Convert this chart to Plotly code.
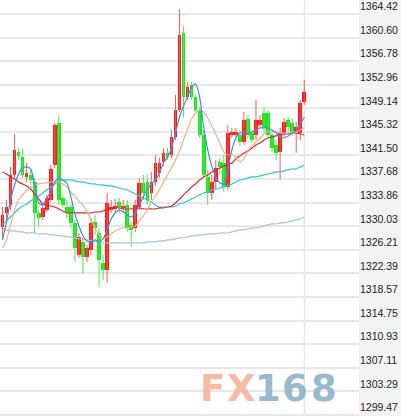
import plotly.graph_objects as go

# ---- candle data (oldest -> newest) ----
opens = [1329.92, 1332.18, 1333.48, 1338.34, 1342.07, 1341.26, 1338.02, 1338.34, 1337.21, 1332.18,
         1331.53, 1332.66, 1334.29, 1339.96, 1346.76, 1334.61, 1333.15, 1333.15, 1330.56, 1325.38,
         1327.49, 1325.06, 1326.19, 1330.72, 1328.94, 1324.08, 1322.95, 1332.66, 1332.83, 1333.96,
         1332.99, 1333.48, 1330.24, 1329.75, 1333.15, 1337.04, 1337.21, 1335.42, 1337.21, 1338.66,
         1340.45, 1341.90, 1341.58, 1344.50, 1348.87, 1361.34, 1350.97, 1352.92, 1350.97, 1348.87,
         1344.82, 1338.02, 1335.42, 1337.21, 1340.45, 1340.28, 1336.40, 1344.82, 1344.82, 1344.82,
         1343.68, 1347.41, 1345.14, 1344.82, 1346.44, 1348.38, 1348.38, 1344.82, 1343.20, 1342.07,
         1345.14, 1347.25, 1346.76, 1345.47, 1345.14, 1350.16]
highs = [1333.15, 1334.29, 1339.64, 1344.98, 1342.71, 1342.55, 1340.28, 1339.15, 1337.85, 1332.66,
         1333.48, 1335.10, 1339.96, 1346.76, 1348.06, 1335.10, 1334.29, 1333.48, 1331.05, 1328.94,
         1328.13, 1327.00, 1331.37, 1331.86, 1329.75, 1325.38, 1335.42, 1334.29, 1334.45, 1334.61,
         1334.29, 1334.29, 1330.72, 1334.29, 1337.85, 1338.34, 1338.34, 1338.83, 1341.58, 1341.09,
         1342.71, 1342.71, 1345.63, 1351.30, 1365.23, 1362.48, 1353.40, 1353.40, 1351.30, 1349.35,
         1345.63, 1339.15, 1338.34, 1340.77, 1341.09, 1341.58, 1346.44, 1345.95, 1345.95, 1345.63,
         1348.54, 1348.06, 1345.63, 1350.49, 1348.06, 1349.35, 1348.87, 1345.31, 1344.01, 1345.95,
         1347.57, 1347.73, 1347.57, 1346.92, 1350.49, 1353.73]
lows = [1327.81, 1330.72, 1332.66, 1337.85, 1340.77, 1337.85, 1337.21, 1336.72, 1328.94, 1329.92,
        1331.05, 1332.34, 1333.96, 1339.47, 1333.48, 1332.99, 1331.37, 1329.75, 1324.25, 1324.89,
        1322.46, 1324.25, 1325.38, 1328.62, 1320.19, 1321.33, 1320.84, 1332.18, 1332.34, 1332.18,
        1332.34, 1329.11, 1326.68, 1329.11, 1332.66, 1334.29, 1333.48, 1334.29, 1336.56, 1337.85,
        1339.80, 1340.77, 1341.09, 1344.01, 1348.54, 1347.57, 1350.49, 1350.49, 1348.54, 1344.33,
        1337.85, 1333.48, 1334.29, 1335.91, 1338.34, 1335.59, 1335.91, 1344.33, 1344.50, 1343.04,
        1343.20, 1344.33, 1343.52, 1344.01, 1345.95, 1345.31, 1344.33, 1342.07, 1340.77, 1337.53,
        1344.50, 1345.31, 1344.65, 1341.90, 1344.01, 1349.68]
closes = [1331.86, 1333.15, 1338.34, 1342.39, 1341.42, 1338.34, 1338.66, 1337.53, 1332.18, 1331.37,
          1332.99, 1334.61, 1339.31, 1346.44, 1334.29, 1333.48, 1332.18, 1330.56, 1326.51, 1328.30,
          1325.06, 1326.51, 1330.56, 1329.75, 1324.57, 1322.95, 1333.80, 1333.15, 1333.31, 1333.15,
          1333.31, 1329.75, 1329.43, 1333.48, 1337.04, 1335.42, 1334.29, 1337.21, 1340.28, 1340.28,
          1341.90, 1341.26, 1344.50, 1348.87, 1361.02, 1350.97, 1352.59, 1350.97, 1348.87, 1344.82,
          1338.34, 1335.42, 1337.21, 1339.47, 1339.64, 1336.40, 1345.14, 1345.31, 1345.31, 1343.68,
          1347.25, 1344.82, 1344.01, 1347.25, 1347.25, 1345.95, 1344.82, 1342.71, 1341.90, 1345.14,
          1346.92, 1346.11, 1345.31, 1346.11, 1350.00, 1351.78]

# ---- moving averages ----
ma_fast = [1327.81, 1330.72, 1334.29, 1336.72, 1338.50, 1339.47, 1339.64, 1339.31, 1336.72, 1333.80,
           1333.48, 1334.61, 1335.59, 1337.21, 1337.85, 1337.53, 1337.04, 1334.78, 1332.02, 1330.08,
           1328.46, 1327.65, 1327.49, 1327.81, 1327.49, 1327.97, 1329.43, 1331.21, 1332.18, 1332.66,
           1332.34, 1331.86, 1331.53, 1332.18, 1333.48, 1334.78, 1336.07, 1336.88, 1337.53, 1338.66,
           1340.28, 1341.26, 1342.71, 1345.14, 1347.73, 1349.52, 1350.97, 1352.59, 1353.08, 1350.97,
           1346.11, 1342.39, 1339.80, 1338.02, 1337.04, 1336.88, 1339.47, 1342.39, 1344.33, 1345.14,
           1345.14, 1345.14, 1345.31, 1345.63, 1345.95, 1345.95, 1345.95, 1345.63, 1345.14, 1344.50,
           1344.33, 1344.66, 1345.14, 1345.47, 1346.60, 1347.73]
ma_mid = [1326.51, 1327.81, 1330.24, 1332.66, 1334.29, 1335.10, 1335.91, 1336.40, 1336.72, 1336.88,
          1337.04, 1337.04, 1337.21, 1337.21, 1337.21, 1336.88, 1336.40, 1335.59, 1334.78, 1334.13,
          1333.48, 1332.34, 1331.05, 1329.75, 1328.62, 1328.13, 1328.30, 1328.78, 1329.27, 1329.59,
          1329.75, 1329.75, 1329.92, 1330.08, 1330.89, 1331.69, 1332.66, 1333.96, 1334.94, 1335.91,
          1337.21, 1338.34, 1339.47, 1340.77, 1342.23, 1344.01, 1345.79, 1347.41, 1348.38, 1348.87,
          1348.54, 1347.57, 1346.28, 1344.98, 1343.52, 1342.07, 1341.58, 1341.74, 1341.09, 1340.45,
          1340.93, 1342.23, 1343.04, 1343.68, 1344.33, 1344.98, 1345.47, 1345.47, 1345.31, 1345.14,
          1345.14, 1345.14, 1345.31, 1345.31, 1345.63, 1345.95]
ma_20 = [1338.83, 1338.50, 1338.02, 1337.69, 1337.21, 1336.88, 1336.56, 1336.07, 1335.26, 1334.45,
         1333.64, 1333.48, 1333.31, 1333.15, 1332.83, 1332.50, 1332.18, 1332.18, 1332.18, 1332.18,
         1332.18, 1332.18, 1332.18, 1332.34, 1332.34, 1332.50, 1332.83, 1332.99, 1333.15, 1332.99,
         1332.83, 1332.83, 1332.83, 1332.99, 1332.99, 1332.83, 1332.83, 1332.83, 1332.83, 1332.99,
         1332.99, 1333.15, 1333.31, 1333.80, 1334.45, 1335.10, 1335.75, 1336.40, 1336.88, 1337.53,
         1338.02, 1338.34, 1338.83, 1339.15, 1339.47, 1339.80, 1339.96, 1340.28, 1340.93, 1341.42,
         1341.90, 1342.23, 1342.71, 1343.20, 1343.52, 1344.01, 1344.33, 1344.50, 1344.66, 1344.82,
         1344.98, 1344.98, 1345.14, 1345.14, 1344.98, 1344.82]
ma_30 = [1330.24, 1330.89, 1331.53, 1332.18, 1332.83, 1333.31, 1333.64, 1334.13, 1334.45, 1334.94,
         1335.42, 1335.91, 1336.40, 1336.88, 1337.37, 1337.53, 1337.53, 1337.53, 1337.37, 1337.21,
         1337.21, 1337.04, 1336.88, 1336.88, 1336.72, 1336.72, 1336.56, 1336.56, 1336.40, 1336.23,
         1336.07, 1335.91, 1335.59, 1335.26, 1334.94, 1334.61, 1334.29, 1333.96, 1333.48, 1333.15,
         1333.15, 1333.15, 1333.15, 1333.31, 1333.64, 1333.80, 1334.13, 1334.45, 1334.78, 1335.10,
         1335.42, 1335.59, 1335.91, 1336.07, 1336.23, 1336.40, 1336.56, 1336.88, 1337.21, 1337.53,
         1337.69, 1337.85, 1338.02, 1338.02, 1338.18, 1338.34, 1338.50, 1338.66, 1338.83, 1338.83,
         1338.99, 1339.15, 1339.31, 1339.31, 1339.64, 1339.96]
ma_long = [1329.43, 1329.43, 1329.27, 1329.27, 1329.11, 1329.11, 1328.94, 1328.94, 1328.94, 1328.78,
           1328.78, 1328.78, 1328.62, 1328.62, 1328.46, 1328.46, 1328.30, 1328.30, 1328.13, 1327.97,
           1327.97, 1327.81, 1327.65, 1327.49, 1327.49, 1327.32, 1327.32, 1327.32, 1327.32, 1327.32,
           1327.32, 1327.32, 1327.32, 1327.32, 1327.32, 1327.32, 1327.49, 1327.49, 1327.49, 1327.65,
           1327.65, 1327.81, 1327.81, 1327.97, 1328.13, 1328.13, 1328.30, 1328.46, 1328.46, 1328.62,
           1328.62, 1328.78, 1328.78, 1328.78, 1328.94, 1328.94, 1328.94, 1329.11, 1329.27, 1329.43,
           1329.43, 1329.59, 1329.75, 1329.75, 1329.92, 1330.08, 1330.24, 1330.40, 1330.40, 1330.56,
           1330.56, 1330.72, 1330.89, 1331.05, 1331.21, 1331.53]

# ---- price axis labels ----
tick_labels = ["1364.42", "1360.60", "1356.78", "1352.96", "1349.14", "1345.32",
               "1341.50", "1337.68", "1333.86", "1330.03", "1326.21", "1322.39",
               "1318.57", "1314.75", "1310.93", "1307.11", "1303.29", "1299.47"]

UP_BODY, DOWN_BODY = "#ff1a1a", "#16e616"
UP_WICK, DOWN_WICK = "#ff5a5a", "#4fe84f"

idx = list(range(len(opens)))
is_up = [c >= o for o, c in zip(opens, closes)]

fig = go.Figure()

# wicks: one polyline per colour, segments split by None
for up_flag, color in ((True, UP_WICK), (False, DOWN_WICK)):
    wx, wy = [], []
    for i in idx:
        if is_up[i] == up_flag:
            wx += [i, i, None]
            wy += [lows[i], highs[i], None]
    fig.add_trace(go.Scatter(x=wx, y=wy, mode="lines",
                             line=dict(color=color, width=1),
                             hoverinfo="skip"))

# bodies
body_base = [min(o, c) for o, c in zip(opens, closes)]
body_h = [max(abs(c - o), 0.16) for o, c in zip(opens, closes)]
fig.add_trace(go.Bar(x=idx, y=body_h, base=body_base, width=0.92,
                     marker=dict(color=[UP_BODY if u else DOWN_BODY for u in is_up],
                                 line=dict(width=0))))

# moving-average lines
for series, color in ((ma_long, "#a3c6da"), (ma_30, "#2fc6d6"), (ma_20, "#e8262a"),
                      (ma_mid, "#eeb088"), (ma_fast, "#3b8ff0")):
    fig.add_trace(go.Scatter(x=idx, y=series, mode="lines",
                             line=dict(color=color, width=1.2, shape="spline", smoothing=0.6)))

# marker line through the latest session
fig.add_shape(type="line", xref="x", yref="paper", x0=idx[-1], x1=idx[-1], y0=0, y1=1,
              line=dict(color="#dcdcdc", width=1), layer="below")

# FX168 logo watermark
logo_chars = ["F", "X", "1", "6", "8"]
logo_colors = ["#f4b49c", "#f4b49c", "#8fb2ca", "#8fb2ca", "#8fb2ca"]
logo_x = [212, 241, 268, 295, 324]
for ch, col, px in zip(logo_chars, logo_colors, logo_x):
    fig.add_annotation(text=ch, xref="paper", yref="paper", x=px / 359, y=1 - 388 / 416,
                       showarrow=False, xanchor="center", yanchor="middle", opacity=0.9,
                       font=dict(family="DejaVu Sans", size=37, color=col, weight="bold"))

fig.update_layout(
    width=401, height=416,
    margin=dict(l=0, r=42, t=0, b=0),
    paper_bgcolor="#f3f3f3", plot_bgcolor="#ffffff",
    showlegend=False, barmode="overlay", bargap=0,
    xaxis=dict(range=[-0.62, 88.6], showgrid=False, zeroline=False,
               showticklabels=False, showline=False, ticks=""),
    yaxis=dict(side="right", range=[1299.283, 1366.688],
               tickvals=[float(t) for t in tick_labels], ticktext=tick_labels,
               ticklabelposition="outside top",
               showgrid=True, gridcolor="#e8e8e8", gridwidth=1.5,
               zeroline=False, showline=False, ticks="",
               tickfont=dict(family="Liberation Sans, Arial", size=10.5, color="#222222")),
)

fig.write_html("out.html")
